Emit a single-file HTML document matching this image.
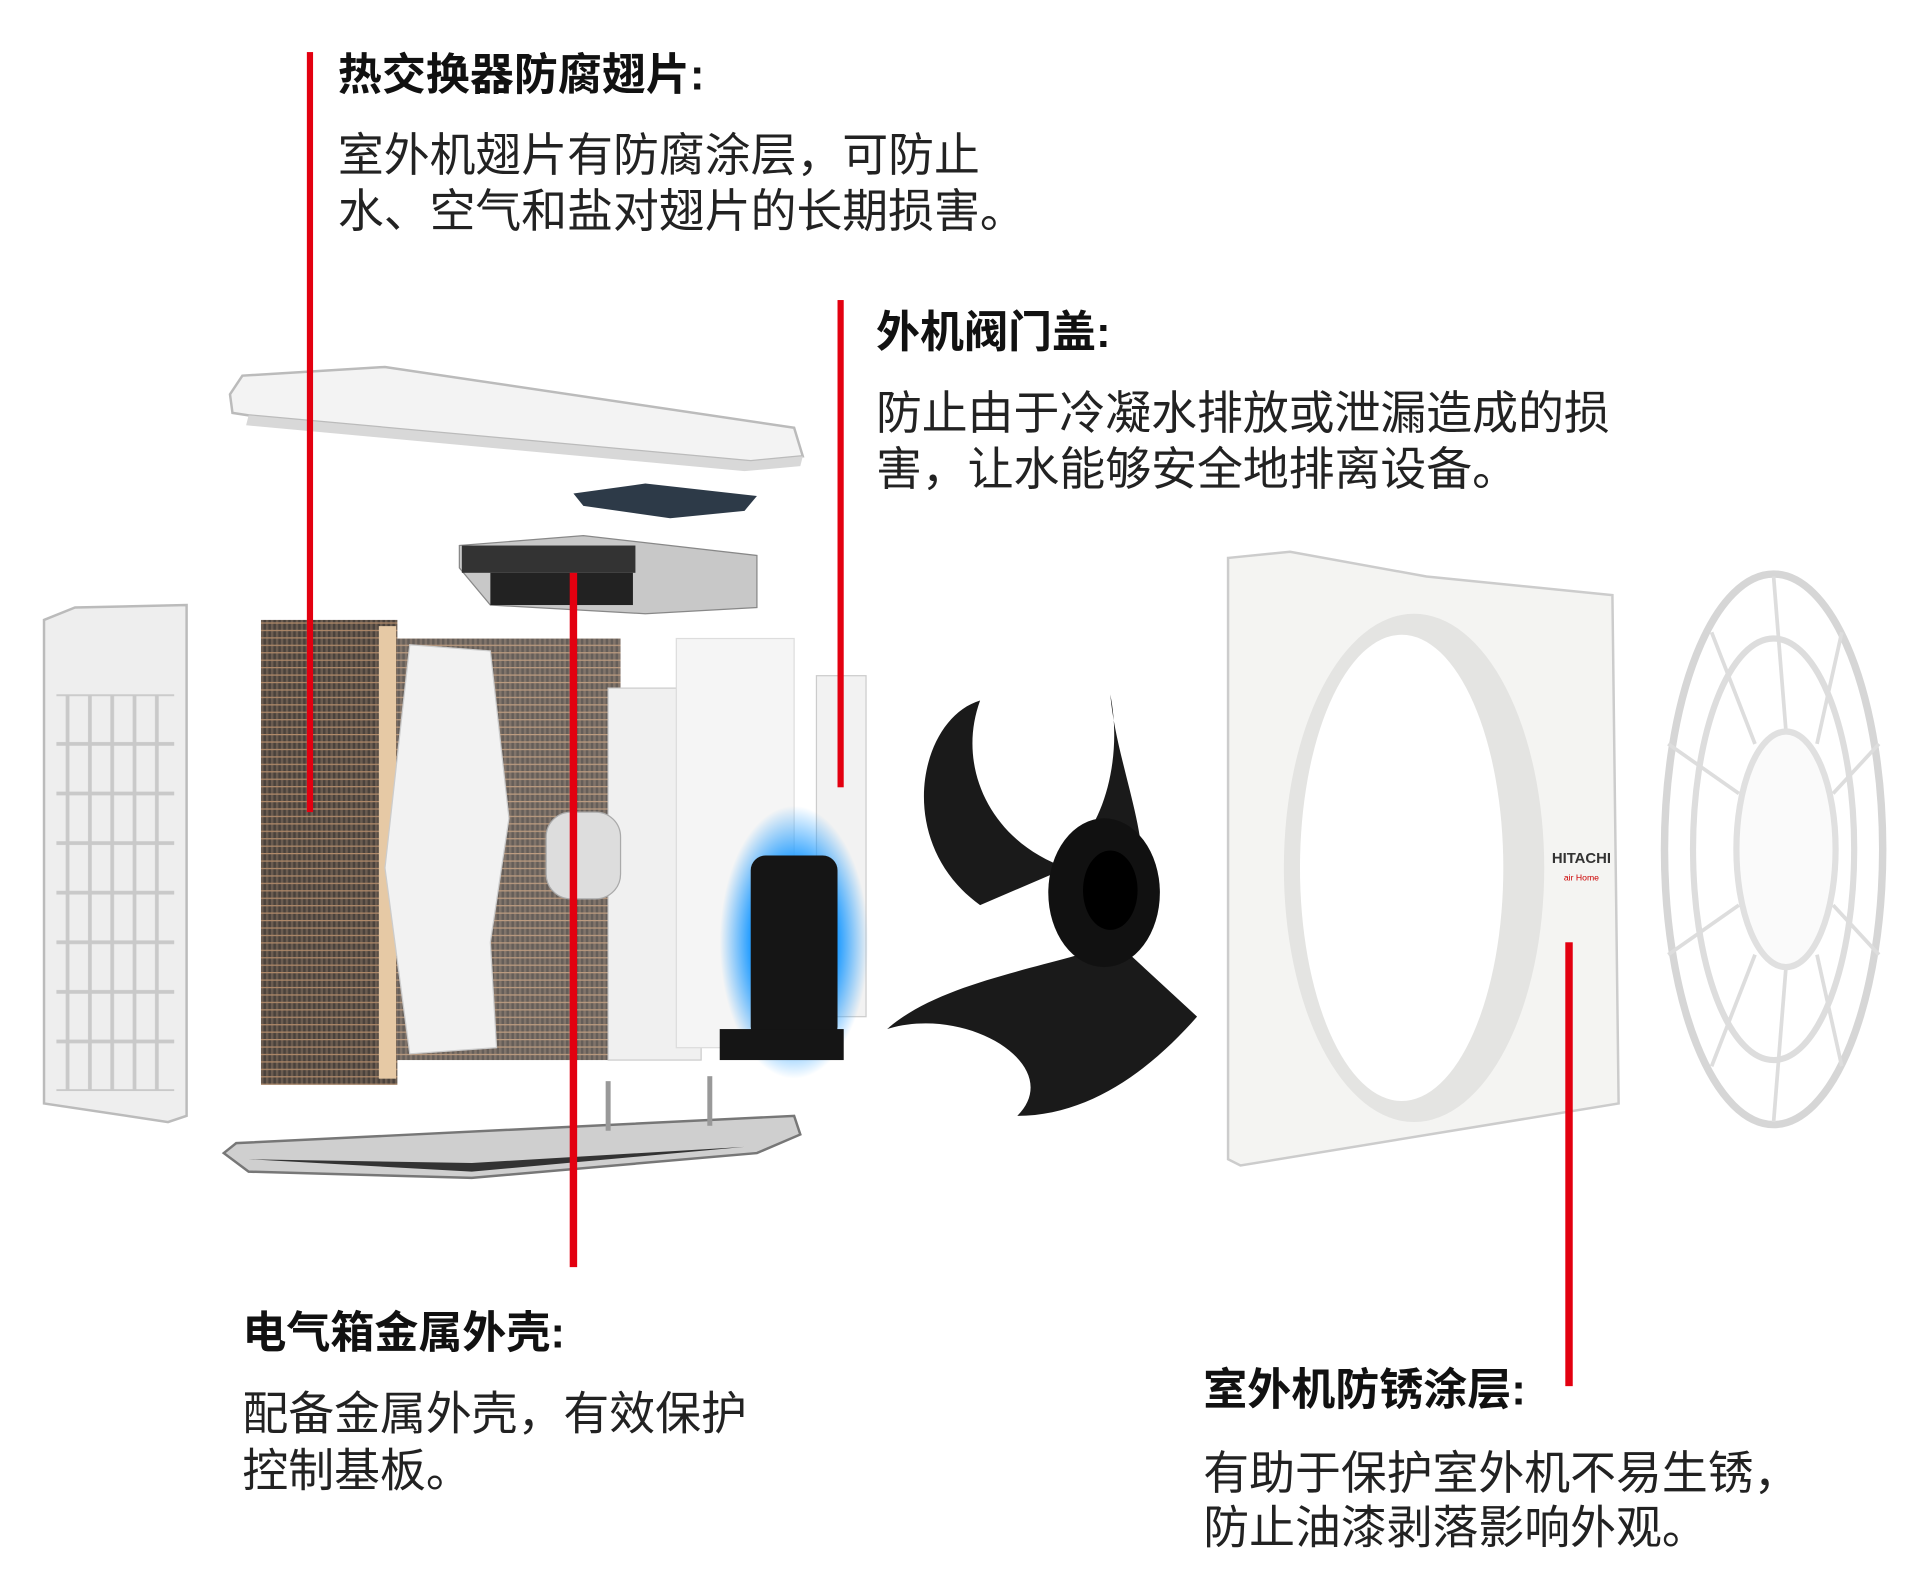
<!DOCTYPE html>
<html><head><meta charset="utf-8"><style>
html,body{margin:0;padding:0;background:#fff;}
svg{display:block}
.h{font-family:"Liberation Sans","Noto Sans CJK SC",sans-serif;font-weight:700;font-size:35.5px;fill:#111}
.b{font-family:"Liberation Sans","Noto Sans CJK SC",sans-serif;font-size:37px;fill:#222}
</style></head><body>
<svg width="1923" height="1587" viewBox="0 0 1550 1280" xmlns="http://www.w3.org/2000/svg">
<defs>
<pattern id="coil" width="4" height="6" patternUnits="userSpaceOnUse"><rect width="4" height="6" fill="#6b5c50"/><rect width="2" height="6" fill="#4a423c"/><rect y="4" width="4" height="1" fill="#b08a6a"/></pattern>
<pattern id="grid" width="18" height="40" patternUnits="userSpaceOnUse"><rect width="18" height="40" fill="none" stroke="#c9c9c9" stroke-width="3"/></pattern>
<radialGradient id="glow"><stop offset="0.6" stop-color="#2aa0ff"/><stop offset="1" stop-color="#2aa0ff" stop-opacity="0"/></radialGradient>
</defs>
<polygon points="185,318 195,303 310,296 640,345 647,368 605,372 200,335 187,333" fill="#f3f3f3" stroke="#bbb" stroke-width="2"/>
<polygon points="200,335 605,372 647,368 645,376 600,380 198,343" fill="#d8d8d8"/>
<polygon points="462,398 520,390 610,400 600,412 540,418 470,408" fill="#2d3a48"/>
<polygon points="370,440 470,432 610,448 610,490 520,495 395,488 370,458" fill="#c8c8c8" stroke="#888"/>
<rect x="372" y="440" width="140" height="22" fill="#333"/>
<rect x="395" y="462" width="115" height="26" fill="#222"/>
<polygon points="35,500 60,490 150,488 150,900 135,905 35,890" fill="#eee" stroke="#bbb" stroke-width="2"/>
<rect x="45" y="560" width="95" height="320" fill="url(#grid)"/>
<rect x="210" y="500" width="110" height="375" fill="url(#coil)"/>
<rect x="320" y="515" width="180" height="340" fill="url(#coil)" opacity="0.85"/>
<rect x="305" y="505" width="14" height="365" fill="#e6c9a5"/>
<polygon points="330,520 395,525 410,660 395,760 400,845 330,850 310,700" fill="#f2f2f2" stroke="#ccc"/>
<rect x="490" y="555" width="75" height="300" fill="#f0f0f0" stroke="#ccc"/>
<rect x="545" y="515" width="95" height="330" fill="#f5f5f5" stroke="#ddd"/>
<rect x="658" y="545" width="40" height="275" fill="#f2f2f2" stroke="#ccc"/>
<rect x="440" y="655" width="60" height="70" rx="20" fill="#ddd" stroke="#aaa"/>
<ellipse cx="640" cy="760" rx="60" ry="110" fill="url(#glow)"/>
<rect x="605" y="690" width="70" height="150" rx="12" fill="#151515"/>
<rect x="580" y="830" width="100" height="25" fill="#151515"/>
<polygon points="180,930 190,922 640,900 645,915 610,930 380,950 200,945" fill="#cfcfcf" stroke="#777" stroke-width="2"/>
<polygon points="200,935 380,945 600,925 380,938" fill="#333"/>
<rect x="488" y="872" width="4" height="40" fill="#999"/><rect x="570" y="868" width="4" height="40" fill="#999"/>
<path d="M790,565 C740,580 720,680 790,730 L860,700 C800,680 770,620 790,565 Z" fill="#1a1a1a"/>
<path d="M895,560 C905,610 890,660 870,680 L915,730 C935,690 900,620 895,560 Z" fill="#1a1a1a"/>
<path d="M715,830 C760,790 850,780 900,760 L965,820 C930,860 880,900 820,900 C860,860 780,810 715,830 Z" fill="#1a1a1a"/>
<ellipse cx="890" cy="720" rx="45" ry="60" fill="#111"/>
<ellipse cx="895" cy="718" rx="22" ry="32" fill="#000"/>
<polygon points="990,450 1040,445 1150,465 1300,480 1305,890 1000,940 990,935" fill="#f4f4f2" stroke="#ccc" stroke-width="2"/>
<ellipse cx="1140" cy="700" rx="105" ry="205" fill="#e4e4e2"/>
<ellipse cx="1130" cy="700" rx="82" ry="188" fill="#fff"/>
<text x="1275" y="696" font-family="Liberation Sans,sans-serif" font-size="12" font-weight="700" text-anchor="middle" fill="#333">HITACHI</text>
<text x="1275" y="710" font-family="Liberation Sans,sans-serif" font-size="7" text-anchor="middle" fill="#c00">air Home</text>
<ellipse cx="1430" cy="685" rx="88" ry="222" fill="none" stroke="#d6d6d6" stroke-width="6"/>
<ellipse cx="1430" cy="685" rx="65" ry="170" fill="none" stroke="#ddd" stroke-width="5"/>
<g stroke="#ddd" stroke-width="3">
<line x1="1430" y1="465" x2="1440" y2="590"/><line x1="1430" y1="905" x2="1440" y2="780"/>
<line x1="1345" y1="600" x2="1402" y2="640"/><line x1="1345" y1="770" x2="1402" y2="730"/>
<line x1="1515" y1="600" x2="1478" y2="640"/><line x1="1515" y1="770" x2="1478" y2="730"/>
<line x1="1380" y1="510" x2="1415" y2="600"/><line x1="1380" y1="860" x2="1415" y2="770"/>
<line x1="1485" y1="510" x2="1465" y2="600"/><line x1="1485" y1="860" x2="1465" y2="770"/>
</g>
<ellipse cx="1440" cy="685" rx="40" ry="95" fill="#fafafa" stroke="#e0e0e0" stroke-width="5"/>
<rect x="247" y="42" width="5" height="613" fill="#e30010"/>
<rect x="675" y="242" width="5" height="393" fill="#e30010"/>
<rect x="459" y="462" width="6" height="560" fill="#e30010"/>
<rect x="1262" y="760" width="6" height="358" fill="#e30010"/>
<text class="h" x="272" y="72">热交换器防腐翅片:</text>
<text class="b" x="272" y="138">室外机翅片有防腐涂层，可防止</text>
<text class="b" x="272" y="183">水、空气和盐对翅片的长期损害。</text>
<text class="h" x="706" y="280">外机阀门盖:</text>
<text class="b" x="706" y="346">防止由于冷凝水排放或泄漏造成的损</text>
<text class="b" x="706" y="391">害，让水能够安全地排离设备。</text>
<text class="h" x="195" y="1087">电气箱金属外壳:</text>
<text class="b" x="195" y="1153">配备金属外壳，有效保护</text>
<text class="b" x="195" y="1199">控制基板。</text>
<text class="h" x="970" y="1133">室外机防锈涂层:</text>
<text class="b" x="970" y="1201">有助于保护室外机不易生锈，</text>
<text class="b" x="970" y="1245">防止油漆剥落影响外观。</text>
</svg>
</body></html>
